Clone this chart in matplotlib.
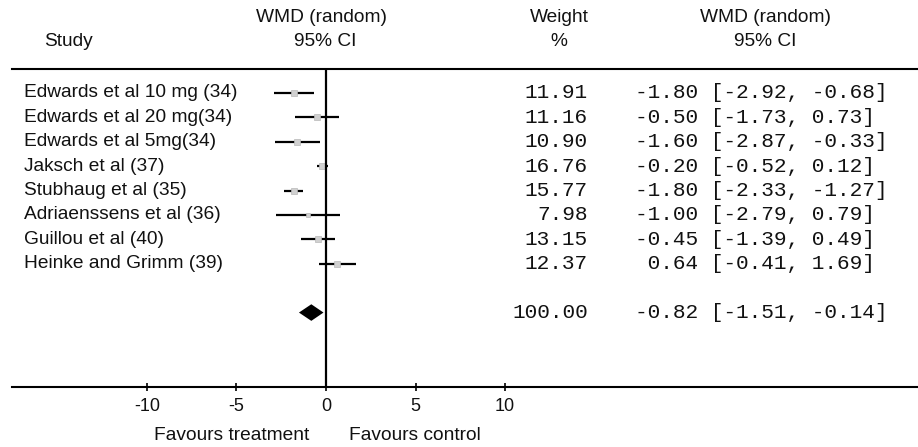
import matplotlib.pyplot as plt
import matplotlib.transforms as mtransforms
import numpy as np

studies = ['Edwards et al 10 mg (34)', 'Edwards et al 20 mg(34)', 'Edwards et al 5mg(34)',
           'Jaksch et al (37)', 'Stubhaug et al (35)', 'Adriaenssens et al (36)',
           'Guillou et al (40)', 'Heinke and Grimm (39)']
weights = [11.91, 11.16, 10.90, 16.76, 15.77, 7.98, 13.15, 12.37]
wmd = [-1.80, -0.50, -1.60, -0.20, -1.80, -1.00, -0.45, 0.64]
ci_lo = [-2.92, -1.73, -2.87, -0.52, -2.33, -2.79, -1.39, -0.41]
ci_hi = [-0.68, 0.73, -0.33, 0.12, -1.27, 0.79, 0.49, 1.69]

total_weight = 100.00
pooled = -0.82
pooled_lo = -1.51
pooled_hi = -0.14

xticks = [-10, -5, 0, 5, 10]

fig = plt.figure(figsize=(9.18, 4.47), dpi=100)
ax = fig.add_axes([12 / 918, 60 / 447, 906 / 918, 318 / 447])

rows = np.arange(len(studies))
pooled_row = len(studies) + 1

# study lines + small grey squares
for i in rows:
    ax.plot([ci_lo[i], ci_hi[i]], [i, i], color='black', lw=1.6, solid_capstyle='butt')
    ax.plot(wmd[i], i, 's', color='#d0d0d0', mec='#b8b8b8', mew=0.5,
            markersize=1.2 * np.sqrt(weights[i]))

# pooled diamond
h = 0.34
ax.fill([pooled_lo, pooled, pooled_hi, pooled],
        [pooled_row, pooled_row - h, pooled_row, pooled_row + h],
        color='black', lw=0)

ax.axvline(0, color='black', lw=1.6)

ax.set_xlim(-17.54, 33.07)
ax.set_ylim(12.05, -0.98)
ax.set_xticks(xticks)
ax.set_xticklabels([str(t) for t in xticks], fontsize=13, family='Liberation Sans', color='#111111')
ax.tick_params(axis='x', direction='inout', length=6, width=1.2, pad=5)
ax.set_yticks([])
for s in ['left', 'right']:
    ax.spines[s].set_visible(False)
ax.spines['bottom'].set_linewidth(1.5)
ax.spines['top'].set_linewidth(1.5)

# text columns
tr = mtransforms.blended_transform_factory(fig.transFigure, ax.transData)
sans = dict(family='Liberation Sans', fontsize=13.8, color='#111111')
mono = dict(family='Liberation Mono', fontsize=15.2, color='#111111')

for i in rows:
    ax.text(24 / 918, i, studies[i], transform=tr, va='center', ha='left', **sans)
    ax.text(588 / 918, i, f'{weights[i]:.2f}', transform=tr, va='center', ha='right', **mono)
    ax.text(635 / 918, i, f'{wmd[i]:5.2f} [{ci_lo[i]:.2f}, {ci_hi[i]:.2f}]',
            transform=tr, va='center', ha='left', **mono)

ax.text(588 / 918, pooled_row, f'{total_weight:.2f}', transform=tr, va='center', ha='right', **mono)
ax.text(635 / 918, pooled_row, f'{pooled:5.2f} [{pooled_lo:.2f}, {pooled_hi:.2f}]',
        transform=tr, va='center', ha='left', **mono)

# headers
fig.text(68 / 918, 1 - 41 / 447, 'Study', ha='center', va='center', **sans)
fig.text(322 / 918, 1 - 17 / 447, 'WMD (random)', ha='center', va='center', **sans)
fig.text(325 / 918, 1 - 42 / 447, '95% CI', ha='center', va='center', **sans)
fig.text(559 / 918, 1 - 17 / 447, 'Weight', ha='center', va='center', **sans)
fig.text(559 / 918, 1 - 42 / 447, '%', ha='center', va='center', **sans)
fig.text(765 / 918, 1 - 17 / 447, 'WMD (random)', ha='center', va='center', **sans)
fig.text(765 / 918, 1 - 42 / 447, '95% CI', ha='center', va='center', **sans)

fig.text(232 / 918, 1 - 436 / 447, 'Favours treatment', ha='center', va='center', **sans)
fig.text(415 / 918, 1 - 436 / 447, 'Favours control', ha='center', va='center', **sans)

fig.savefig('out.png', dpi=100)
